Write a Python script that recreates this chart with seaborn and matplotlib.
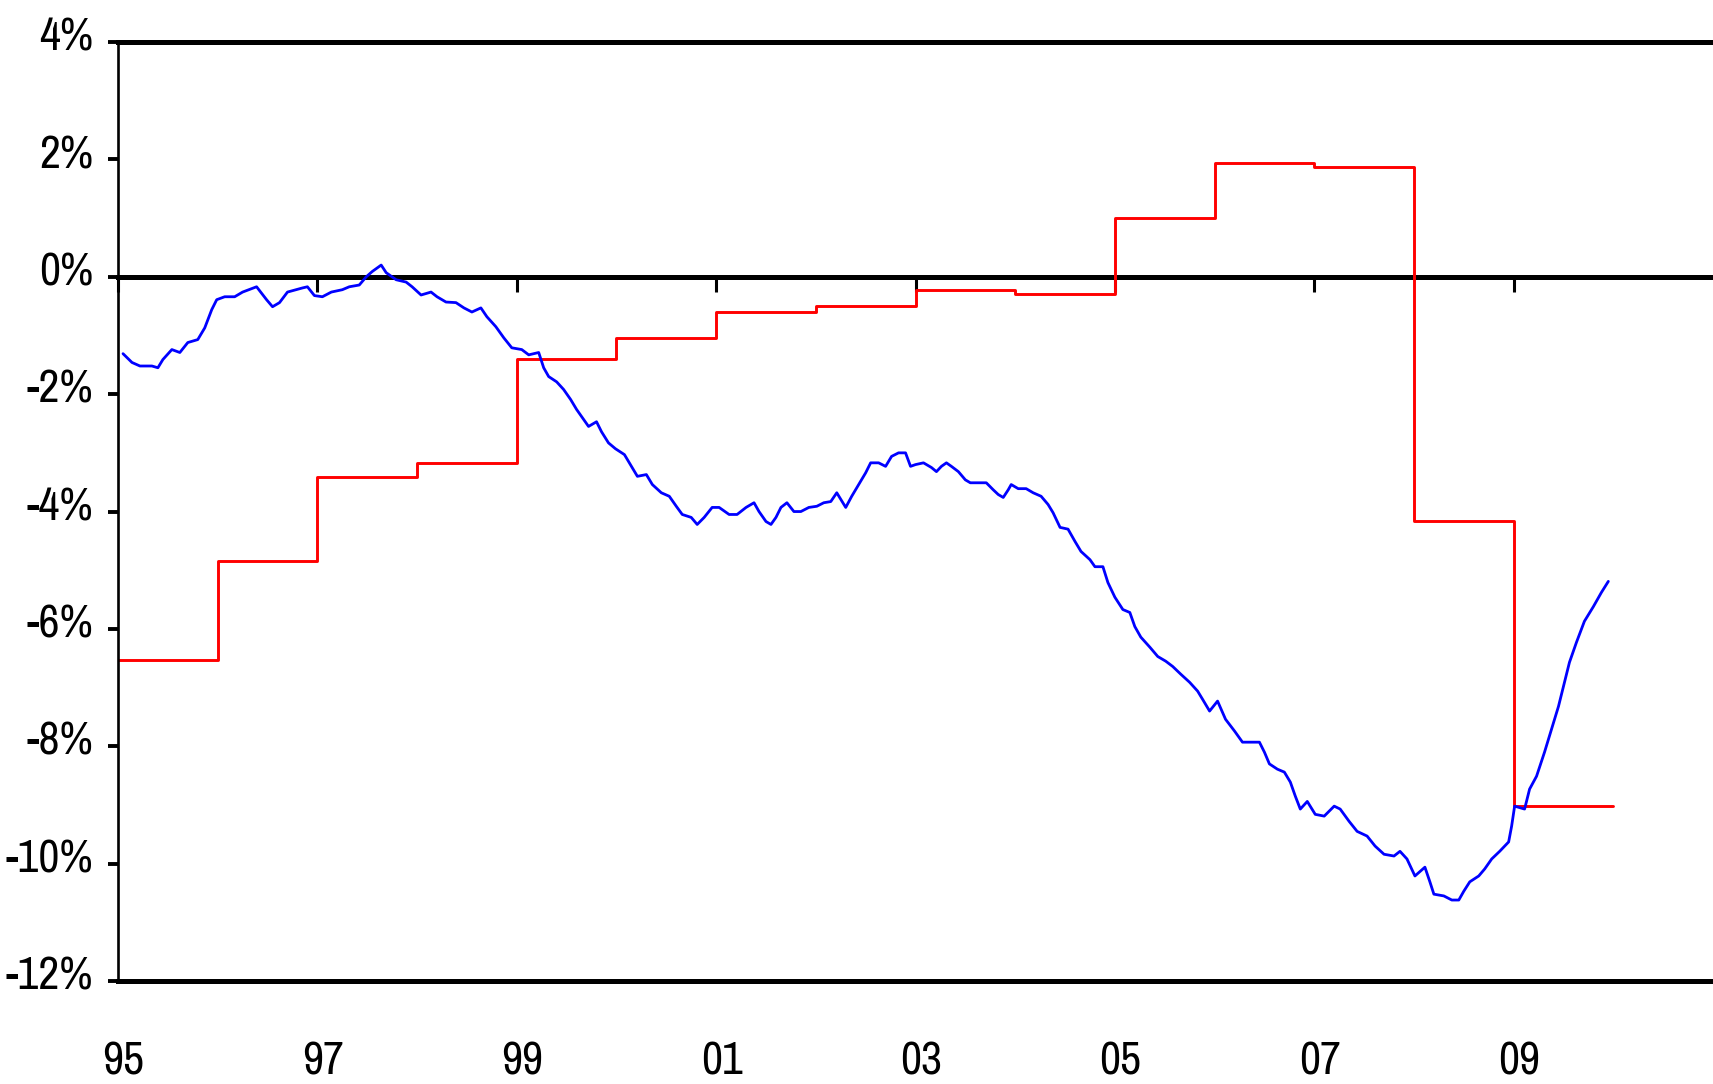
import matplotlib
matplotlib.use("Agg")
import matplotlib.pyplot as plt
from matplotlib import font_manager
import seaborn as sns
import pandas as pd
from matplotlib.transforms import ScaledTranslation

# ---------------- data ----------------
red_years = [1995, 1996, 1997, 1998, 1999, 2000, 2001, 2002, 2003, 2004,
             2005, 2006, 2007, 2008, 2009, 2010]
red_values = [-6.53, -4.85, -3.41, -3.17, -1.40, -1.04, -0.60, -0.50, -0.22, -0.30,
              1.00, 1.94, 1.87, -4.16, -9.02, -9.02]

blue_years = [
    1995.05, 1995.14, 1995.22, 1995.34, 1995.40, 1995.45, 1995.54, 1995.62, 1995.70, 1995.80,
    1995.87, 1995.94, 1995.99, 1996.07, 1996.17, 1996.25, 1996.39, 1996.49, 1996.55, 1996.62,
    1996.70, 1996.85, 1996.90, 1996.97, 1997.05, 1997.14, 1997.25, 1997.32, 1997.42, 1997.49,
    1997.55, 1997.64, 1997.69, 1997.79, 1997.89, 1997.95, 1998.04, 1998.14, 1998.20, 1998.29,
    1998.39, 1998.47, 1998.55, 1998.64, 1998.70, 1998.79, 1998.87, 1998.95, 1999.05, 1999.12,
    1999.22, 1999.27, 1999.32, 1999.40, 1999.47, 1999.54, 1999.60, 1999.67, 1999.72, 1999.80,
    1999.85, 1999.92, 1999.99, 2000.08, 2000.15, 2000.21, 2000.30, 2000.36, 2000.45, 2000.53,
    2000.60, 2000.66, 2000.75, 2000.81, 2000.88, 2000.96, 2001.03, 2001.13, 2001.21, 2001.30,
    2001.38, 2001.43, 2001.50, 2001.55, 2001.60, 2001.65, 2001.71, 2001.78, 2001.85, 2001.93,
    2002.01, 2002.08, 2002.15, 2002.21, 2002.30, 2002.36, 2002.43, 2002.50, 2002.55, 2002.63,
    2002.70, 2002.76, 2002.83, 2002.90, 2002.95, 2003.00, 2003.08, 2003.16, 2003.21, 2003.26,
    2003.31, 2003.36, 2003.43, 2003.50, 2003.55, 2003.71, 2003.78, 2003.83, 2003.88, 2003.93,
    2003.96, 2004.03, 2004.11, 2004.18, 2004.26, 2004.33, 2004.38, 2004.45, 2004.53, 2004.60,
    2004.66, 2004.75, 2004.80, 2004.88, 2004.93, 2005.00, 2005.08, 2005.15, 2005.20, 2005.26,
    2005.35, 2005.43, 2005.51, 2005.58, 2005.66, 2005.75, 2005.83, 2005.88, 2005.95, 2006.03,
    2006.11, 2006.20, 2006.28, 2006.45, 2006.50, 2006.55, 2006.63, 2006.70, 2006.76, 2006.81,
    2006.86, 2006.93, 2007.01, 2007.10, 2007.20, 2007.26, 2007.35, 2007.43, 2007.53, 2007.61,
    2007.70, 2007.80, 2007.86, 2007.93, 2008.01, 2008.11, 2008.16, 2008.20, 2008.30, 2008.38,
    2008.45, 2008.50, 2008.56, 2008.65, 2008.71, 2008.78, 2008.86, 2008.95, 2008.98, 2009.01,
    2009.11, 2009.16, 2009.23, 2009.31, 2009.38, 2009.45, 2009.50, 2009.56, 2009.63, 2009.71,
    2009.80, 2009.88, 2009.95,
]
blue_values = [
    -1.31, -1.46, -1.52, -1.52, -1.55, -1.41, -1.24, -1.29, -1.12, -1.07,
    -0.87, -0.56, -0.39, -0.34, -0.34, -0.26, -0.17, -0.39, -0.51, -0.44,
    -0.26, -0.19, -0.17, -0.32, -0.34, -0.26, -0.22, -0.17, -0.14, 0.00,
    0.09, 0.20, 0.07, -0.05, -0.09, -0.17, -0.31, -0.26, -0.34, -0.43,
    -0.44, -0.53, -0.60, -0.53, -0.68, -0.85, -1.04, -1.21, -1.24, -1.33,
    -1.29, -1.55, -1.70, -1.79, -1.92, -2.09, -2.26, -2.43, -2.55, -2.47,
    -2.64, -2.83, -2.93, -3.03, -3.23, -3.40, -3.37, -3.54, -3.68, -3.74,
    -3.91, -4.05, -4.10, -4.22, -4.10, -3.93, -3.93, -4.05, -4.05, -3.93,
    -3.85, -4.00, -4.17, -4.22, -4.10, -3.93, -3.85, -4.00, -4.00, -3.93,
    -3.91, -3.85, -3.83, -3.68, -3.93, -3.74, -3.54, -3.34, -3.17, -3.17,
    -3.23, -3.06, -3.00, -3.00, -3.23, -3.20, -3.17, -3.25, -3.32, -3.23,
    -3.17, -3.23, -3.32, -3.46, -3.51, -3.51, -3.63, -3.71, -3.76, -3.63,
    -3.54, -3.61, -3.61, -3.68, -3.74, -3.88, -4.02, -4.27, -4.30, -4.51,
    -4.68, -4.82, -4.94, -4.94, -5.21, -5.46, -5.67, -5.72, -5.96, -6.14,
    -6.31, -6.47, -6.55, -6.64, -6.77, -6.91, -7.06, -7.20, -7.40, -7.23,
    -7.54, -7.74, -7.93, -7.93, -8.10, -8.30, -8.39, -8.44, -8.61, -8.85,
    -9.07, -8.94, -9.16, -9.19, -9.02, -9.07, -9.28, -9.45, -9.53, -9.70,
    -9.84, -9.87, -9.79, -9.92, -10.21, -10.06, -10.31, -10.52, -10.55, -10.62,
    -10.62, -10.47, -10.31, -10.21, -10.09, -9.92, -9.79, -9.63, -9.36, -9.02,
    -9.07, -8.73, -8.51, -8.10, -7.71, -7.32, -6.98, -6.57, -6.23, -5.87,
    -5.62, -5.38, -5.19,
]

x_tick_years = [1995, 1997, 1999, 2001, 2003, 2005, 2007, 2009]
x_tick_labels = ["95", "97", "99", "01", "03", "05", "07", "09"]
y_ticks = [-12, -10, -8, -6, -4, -2, 0, 2, 4]
y_tick_labels = ["-12%", "-10%", "-8%", "-6%", "-4%", "-2%", "0%", "2%", "4%"]

red_df = pd.DataFrame({"year": red_years, "value": red_values})
blue_df = pd.DataFrame({"year": blue_years, "value": blue_values})

# ---------------- style ----------------
sns.set_theme(style="white")

# look for a condensed sans font; otherwise fall back to Liberation Sans
condensed = None
for f in font_manager.fontManager.ttflist:
    name = f.name.lower()
    if ("narrow" in name or "condensed" in name) and "bold" not in f.fname.lower():
        condensed = f.name
        break
if condensed:
    plt.rcParams["font.family"] = [condensed, "DejaVu Sans"]
    label_size = 33
else:
    plt.rcParams["font.family"] = ["Liberation Sans", "DejaVu Sans"]
    label_size = 26

fig = plt.figure(figsize=(17.13, 10.84), dpi=100)
fig.patch.set_facecolor("white")
ax = fig.add_axes([0.0689, 0.095, 0.9311, 0.8662])
ax.set_facecolor("white")

sns.lineplot(data=red_df, x="year", y="value", ax=ax, color="#FF0000",
             linewidth=2.1, drawstyle="steps-post", estimator=None, sort=False)
sns.lineplot(data=blue_df, x="year", y="value", ax=ax, color="#0000FF",
             linewidth=2.0, estimator=None, sort=False)

ax.set_xlim(1995, 2011)
ax.set_ylim(-12, 4)
ax.set_xlabel("")
ax.set_ylabel("")

ax.set_yticks(y_ticks)
ax.set_yticklabels(y_tick_labels)
ax.set_xticks(x_tick_years)
ax.set_xticklabels(x_tick_labels)

ax.tick_params(axis="y", which="major", left=True, direction="out", length=7,
               width=2.8, pad=11, labelsize=label_size, colors="black")
ax.tick_params(axis="x", which="major", bottom=True, length=0, pad=43,
               labelsize=label_size, colors="black")

# shift y labels slightly upward as in the reference
for lab in ax.get_yticklabels():
    lab.set_transform(lab.get_transform() + ScaledTranslation(0, 6 / 72, fig.dpi_scale_trans))
for lab in ax.get_xticklabels():
    lab.set_transform(lab.get_transform() + ScaledTranslation(4 / 72, 0, fig.dpi_scale_trans))

for side in ["top", "bottom"]:
    ax.spines[side].set_linewidth(3.6)
    ax.spines[side].set_color("black")
ax.spines["left"].set_linewidth(1.9)
ax.spines["left"].set_color("black")
ax.spines["right"].set_visible(False)

# zero line with downward ticks (secondary x-axis placed at y = 0)
zero_frac = (0 - (-12)) / (4 - (-12))
sec = ax.secondary_xaxis(zero_frac)
sec.set_alignment("bottom")
sec.set_xticks(x_tick_years)
sec.tick_params(axis="x", direction="out", length=11, width=2.2, labelbottom=False,
                labeltop=False, colors="black")
sec.spines["bottom"].set_linewidth(3.6)
sec.spines["bottom"].set_color("black")
sec.set_zorder(1)

ax.grid(False)
fig.savefig("out.png", dpi=100, facecolor="white")
